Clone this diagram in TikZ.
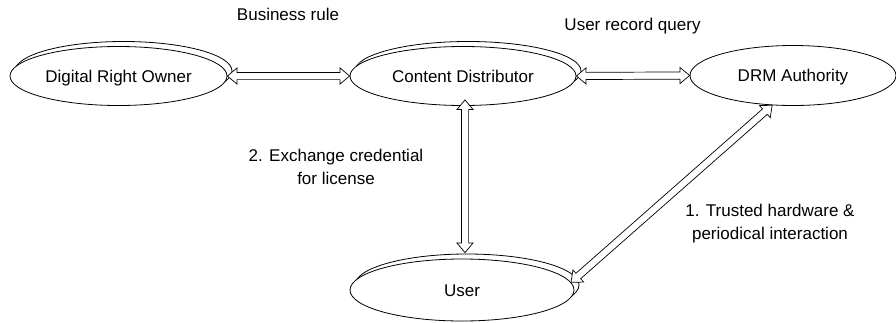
\documentclass[tikz,border=0pt]{standalone}
\usepackage{fontspec}
\setmainfont{Liberation Sans}
\usetikzlibrary{shapes.geometric,shapes.arrows,shadows,calc}

% hollow two-headed block arrow laid between two named points
\newcommand\blockarrow[2]{%
  \path let \p1=($(#2)-(#1)$), \n1={veclen(\x1,\y1)} in
    (#1) -- (#2) node[midway, sloped, flowarrow, minimum height=\n1] {};}

\begin{document}
\begin{tikzpicture}[x=1pt,y=-1pt,
  every node/.style={font=\fontsize{17}{23}\selectfont},
  party/.style={ellipse, draw, fill=white, line width=0.8pt, inner sep=0pt,
    text height=12pt, text depth=0pt},
  stacked/.style={copy shadow={shadow xshift=5pt, shadow yshift=5pt,
    draw, fill=white, line width=0.8pt}},
  flowarrow/.style={double arrow, draw, fill=white, line width=0.7pt,
    inner sep=0pt, inner ysep=3.25pt, double arrow head extend=4.5pt,
    double arrow tip angle=80},
  note/.style={align=center}]
\useasboundingbox (0,0) rectangle (896,322);

% parties
\node[party, stacked, minimum width=217pt, minimum height=59pt] (dro) at (118.5,76) {Digital Right Owner};
\node[party, stacked, minimum width=226pt, minimum height=59pt] (cd) at (463,76) {Content Distributor};
\node[party, minimum width=206pt, minimum height=60pt] (drm) at (793,75.5) {DRM Authority};
\node[party, stacked, minimum width=224pt, minimum height=62pt] (user) at (462,290) {User};

% arrow end points
\coordinate (cdfoot) at ([xshift=2pt,yshift=6pt]cd.south);
\coordinate (userhead) at ([xshift=3pt,yshift=6pt]user.north);

% exchanges
\blockarrow{dro.east}{cd.west}
\blockarrow{cd.east}{drm.west}
\blockarrow{cdfoot}{userhead}
\blockarrow{user.4}{drm.235}

% labels
\node[anchor=base] (rule) at (288,20) {Business rule};
\node[anchor=base] (query) at (632.5,30) {User record query};
\node[note] (cred) at (336,167.3) {2. Exchange credential\\for license};
\node[note] (trust) at (770,223.6) {1. Trusted hardware \&\\periodical interaction};
\end{tikzpicture}
\end{document}
